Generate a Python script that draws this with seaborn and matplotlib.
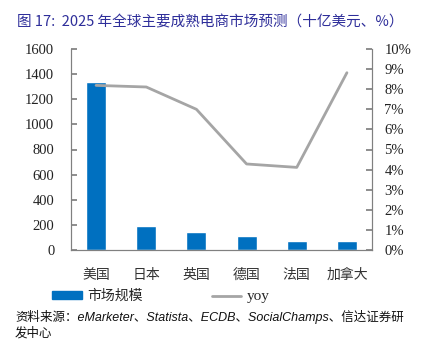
import matplotlib
matplotlib.use("Agg")
import matplotlib.pyplot as plt
import seaborn as sns
import pandas as pd
from matplotlib.patches import Patch
from matplotlib.lines import Line2D
from matplotlib.font_manager import FontProperties

countries = ["美国", "日本", "英国", "德国", "法国", "加拿大"]
market_size = [1340, 191, 141, 114, 72, 72]
yoy = [8.19, 8.11, 7.00, 4.28, 4.11, 8.82]
left_ticks = [0, 200, 400, 600, 800, 1000, 1200, 1400, 1600]
right_ticks = [0, 1, 2, 3, 4, 5, 6, 7, 8, 9, 10]

sns.set_theme(style="white")
plt.rcParams['font.family'] = ['Noto Sans CJK SC', 'DejaVu Sans']

df = pd.DataFrame({"country": countries, "size": market_size, "yoy": yoy})

fig = plt.figure(figsize=(4.23, 3.42), dpi=100)
ax = fig.add_axes([71/423, 1 - 250/342, 301/423, 201/342])

bar_color = "#0070C0"
line_color = "#A5A5A5"
spine_color = "#808080"

sns.barplot(data=df, x="country", y="size", color=bar_color, width=0.4,
            saturation=1, ax=ax)
ax.set_xlabel("")
ax.set_ylabel("")

ax2 = ax.twinx()
sns.lineplot(x=list(range(len(countries))), y=df["yoy"], color=line_color,
             linewidth=2, ax=ax2)
ax2.set_ylabel("")
ax.set_xlim(-0.5, 5.5)
ax.set_ylim(0, 1600)
ax2.set_ylim(0, 10)

for a in (ax, ax2):
    a.spines['top'].set_visible(False)
    for s in ('left', 'right', 'bottom'):
        a.spines[s].set_color(spine_color)
        a.spines[s].set_linewidth(0.8)
    a.grid(False)

num_fp = FontProperties(family='Liberation Serif', size=10.5)
ax.set_yticks(left_ticks)
ax.set_yticklabels([str(v) for v in left_ticks])
ax2.set_yticks(right_ticks)
ax2.set_yticklabels([f"{v}%" for v in right_ticks])
for lab in ax.get_yticklabels() + ax2.get_yticklabels():
    lab.set_fontproperties(num_fp)
    lab.set_color("#222222")

ax.tick_params(axis='y', direction='in', length=4, color=spine_color, pad=12)
ax2.tick_params(axis='y', direction='in', length=4, color=spine_color, pad=9)

ax.set_xticks([i + 0.5 for i in range(len(countries) - 1)], minor=True)
ax.set_xticks(range(len(countries)))
ax.set_xticklabels(countries, fontsize=10, color="#333333")
ax.tick_params(axis='x', which='major', length=0, pad=13)
ax.tick_params(axis='x', which='minor', direction='in', length=4, color=spine_color)

fig.text(17/423, 1 - 22/342, "图 17:  2025 年全球主要成熟电商市场预测（十亿美元、%）",
         color="#2E2E9A", fontsize=10.5, va='center', ha='left')

handles = [Patch(facecolor=bar_color, edgecolor=bar_color),
           Line2D([0], [0], color=line_color, linewidth=2)]
leg = fig.legend(handles, ["市场规模", "yoy"], loc='center', ncol=2,
                 bbox_to_anchor=(161/423, 1 - 296/342), frameon=False,
                 fontsize=10, handlelength=2.1, handleheight=0.45,
                 columnspacing=5.0, handletextpad=0.4)
leg.get_texts()[1].set_fontproperties(FontProperties(family='Liberation Serif', size=11))

fig.text(15/423, 1 - 325/342,
         "资料来源：eMarketer、Statista、ECDB、SocialChamps、信达证券研\n发中心",
         fontsize=9, style='italic', va='center', ha='left', color="#111111",
         linespacing=1.3, family=['Liberation Sans', 'Noto Sans CJK SC'])

fig.savefig("out.png", dpi=100)
